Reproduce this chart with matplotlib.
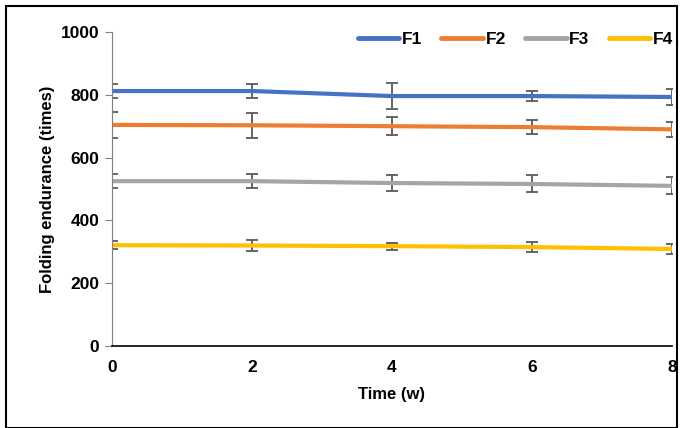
import matplotlib
matplotlib.use("Agg")
import matplotlib.pyplot as plt
from matplotlib.patches import Rectangle
from matplotlib.lines import Line2D

plt.rcParams['font.family'] = ['Liberation Sans', 'DejaVu Sans']
plt.rcParams['font.weight'] = 'bold'

# data
time_w = [0, 2, 4, 6, 8]
f1 = [812, 812, 796, 796, 793]
f1_err = [22, 21, 41, 16, 25]
f2 = [704, 703, 700, 697, 690]
f2_err = [40, 40, 29, 22, 24]
f3 = [525, 525, 519, 516, 510]
f3_err = [23, 23, 26, 27, 27]
f4 = [321, 320, 318, 315, 309]
f4_err = [12, 16, 11, 16, 15]

series = [
    ("F1", f1, f1_err, "#4472C4"),
    ("F2", f2, f2_err, "#ED7D31"),
    ("F3", f3, f3_err, "#A5A5A5"),
    ("F4", f4, f4_err, "#FFC000"),
]

fig = plt.figure(figsize=(6.83, 4.28), dpi=100)
ax = fig.add_axes([112 / 683, 1 - 346 / 428, 560 / 683, 314 / 428])

for label, vals, errs, col in series:
    ax.errorbar(time_w, vals, yerr=errs, color=col, linewidth=3,
                ecolor="#595959", elinewidth=1.3, capsize=4, capthick=1.3,
                label=label, zorder=2)

ax.set_xlim(0, 8)
ax.set_ylim(0, 1000)
ax.set_xticks([0, 2, 4, 6, 8])
ax.set_yticks(range(0, 1001, 200))
ax.tick_params(axis='x', length=0, pad=10, labelsize=12.5)
ax.tick_params(axis='y', length=5, color="#808080", labelsize=12.5, direction='out', pad=4)
for s in ['top', 'right']:
    ax.spines[s].set_visible(False)
ax.spines['left'].set_color("#808080")
ax.spines['bottom'].set_color("black")
ax.spines['bottom'].set_linewidth(1.2)

ax.set_xlabel("Time (w)", fontsize=12, fontweight='bold', labelpad=9)
ax.set_ylabel("Folding endurance (times)", fontsize=12, fontweight='bold', labelpad=4)

# legend uses plain lines, no error bar glyphs
handles = [Line2D([0], [0], color=c, linewidth=3.5, solid_capstyle='round') for _, _, _, c in series]
ax.legend(handles, [s[0] for s in series], ncol=4, loc='upper right',
          bbox_to_anchor=(1.03, 1.05), frameon=False, fontsize=12.5,
          handlelength=2.4, columnspacing=1.1, handletextpad=0.15)

fig.patches.append(Rectangle((6 / 683, 0.0), 1 - 12 / 683, 1 - 6 / 428,
                             transform=fig.transFigure, fill=False,
                             edgecolor='black', linewidth=1.5))

fig.savefig("out.png", dpi=100)
